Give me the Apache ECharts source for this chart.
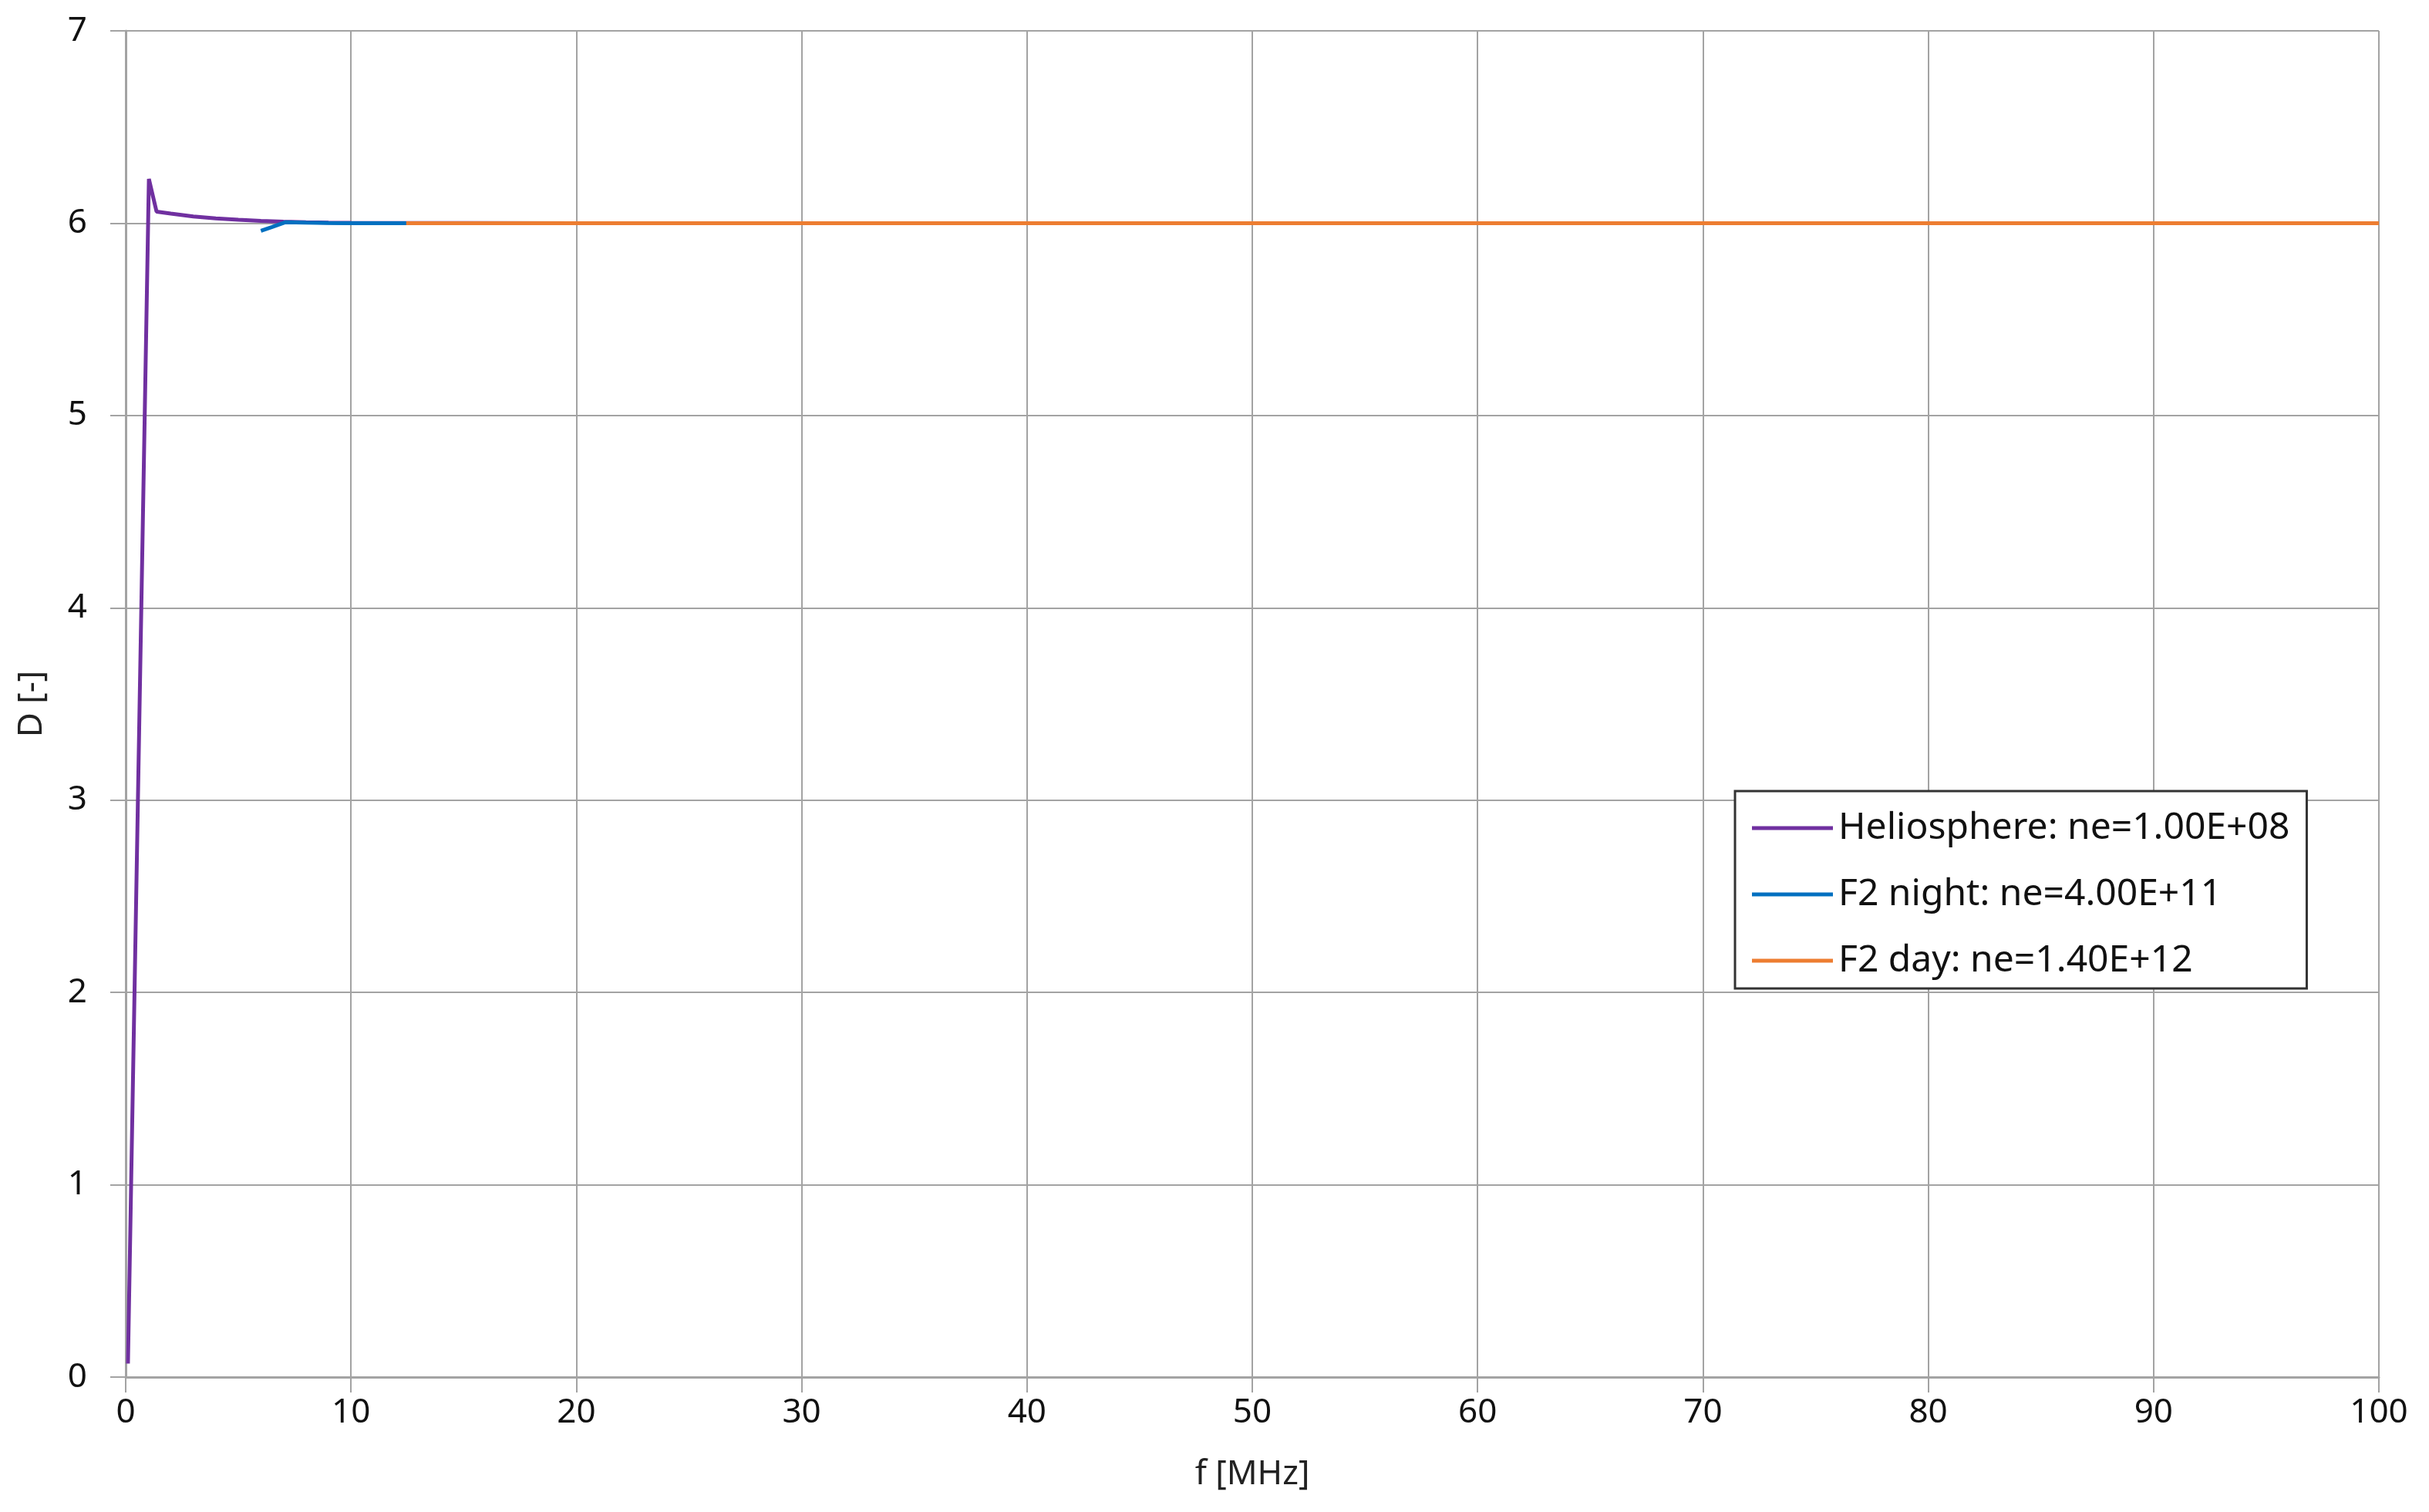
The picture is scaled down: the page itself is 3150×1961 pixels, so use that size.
<!DOCTYPE html>
<html>

<head>
    <meta charset="utf-8">
    <title>D vs f</title>
    <script src="https://cdn.jsdelivr.net/npm/echarts@6/dist/echarts.min.js"></script>
</head>

<body style="margin:0;background:#fff">
    <div id="main" style="width: 3150px;height: 1961px;"></div>

    <script type="text/javascript">
        // series names (legend)
        var seriesNames = ['Heliosphere: ne=1.00E+08', 'F2 night: ne=4.00E+11', 'F2 day: ne=1.40E+12'];

        // [f MHz, D]
        var helioData = [[0.1, 0.07], [1.03, 6.23], [1.37, 6.06], [2, 6.05], [3, 6.035], [4, 6.025], [5, 6.018],
            [6, 6.012], [7, 6.008], [8, 6.005], [9, 6.003], [10, 6.002], [20, 6.0], [50, 6.0], [100, 6.0]];
        var nightData = [[6.0, 5.96], [6.5, 5.98], [7.1, 6.005], [8, 6.003], [9, 6.001], [10, 6.0],
            [12.5, 6.0], [20, 6.0], [50, 6.0], [100, 6.0]];
        var dayData = [[12.45, 6.0], [15, 6.0], [20, 6.0], [30, 6.0], [50, 6.0], [70, 6.0], [100, 6.0]];

        var colors = ['#7030A0', '#0070C0', '#ED7D31'];

        var myChart = echarts.init(document.getElementById('main'));

        var gridColor = '#a3a3a3';
        var font = 'Noto Sans';

        var option = {
            color: colors,
            animation: false,
            grid: {
                left: 163,
                right: 65,
                top: 40,
                bottom: 175
            },
            legend: {
                orient: 'vertical',
                left: 2250,
                top: 1026,
                backgroundColor: '#fff',
                borderColor: '#333',
                borderWidth: 3,
                padding: [24, 22, 12, 22],
                icon: 'rect',
                itemWidth: 105,
                itemHeight: 5,
                itemGap: 38,
                textStyle: {
                    fontFamily: font,
                    fontSize: 48,
                    lineHeight: 40,
                    color: '#111',
                    padding: [0, 0, 0, 2]
                },
                data: seriesNames
            },
            xAxis: {
                type: 'value',
                min: 0,
                max: 100,
                interval: 10,
                name: 'f [MHz]',
                nameLocation: 'middle',
                nameGap: 104,
                nameTextStyle: { fontFamily: font, fontSize: 44, color: '#222' },
                axisLine: { show: true, lineStyle: { color: gridColor, width: 3 } },
                axisTick: { show: true, length: 20, lineStyle: { color: gridColor, width: 2 } },
                axisLabel: { margin: 24, fontFamily: font, fontSize: 44, color: '#111' },
                splitLine: { show: true, lineStyle: { color: gridColor, width: 2 } }
            },
            yAxis: {
                type: 'value',
                min: 0,
                max: 7,
                interval: 1,
                name: 'D [-]',
                nameLocation: 'middle',
                nameGap: 100,
                nameTextStyle: { fontFamily: font, fontSize: 44, color: '#222' },
                axisLine: { show: true, lineStyle: { color: gridColor, width: 3 } },
                axisTick: { show: true, length: 20, lineStyle: { color: gridColor, width: 2 } },
                axisLabel: { margin: 50, fontFamily: font, fontSize: 44, color: '#111' },
                splitLine: { show: true, lineStyle: { color: gridColor, width: 2 } }
            },
            series: [{
                name: seriesNames[0],
                type: 'line',
                symbol: 'none',
                data: helioData,
                lineStyle: { width: 5 },
                z: 2
            }, {
                name: seriesNames[1],
                type: 'line',
                symbol: 'none',
                data: nightData,
                lineStyle: { width: 5 },
                z: 3
            }, {
                name: seriesNames[2],
                type: 'line',
                symbol: 'none',
                data: dayData,
                lineStyle: { width: 5 },
                z: 4
            }]
        };

        myChart.setOption(option);
    </script>
</body>

</html>
